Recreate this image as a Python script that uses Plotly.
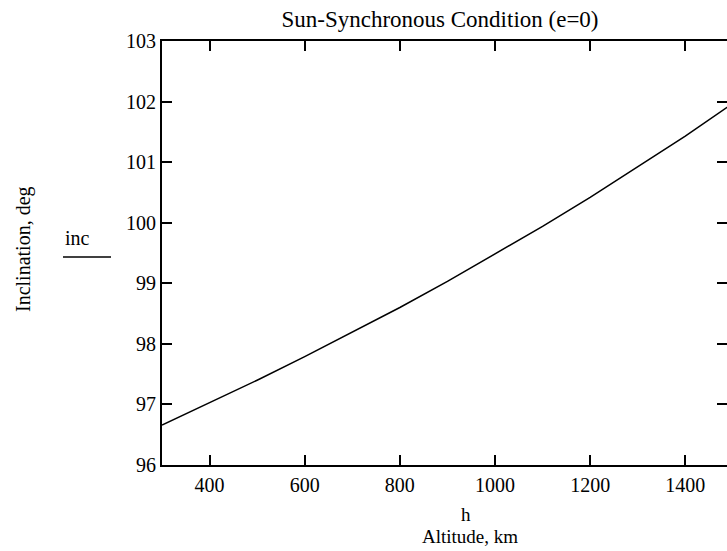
import plotly.graph_objects as go

altitude_km = [300, 400, 500, 600, 700, 800, 900, 1000, 1100, 1200, 1300, 1400, 1500]
inclination_deg = [96.66, 97.03, 97.40, 97.79, 98.19, 98.60, 99.03, 99.48, 99.94, 100.42, 100.92, 101.43, 101.97]
x_ticks = [400, 600, 800, 1000, 1200, 1400]
y_ticks = [96, 97, 98, 99, 100, 101, 102, 103]

FONT = "Liberation Serif"
W, H = 727, 551
L, R, T, B = 162, 0, 41, 86
PW, PH = W - L - R, H - T - B


def px(x):
    return (x - L) / PW


def py(y):
    return (H - B - y) / PH


fig = go.Figure()
fig.add_trace(go.Scatter(x=altitude_km, y=inclination_deg, mode="lines",
                         line=dict(color="black", width=1.5), showlegend=False,
                         hoverinfo="skip"))
# invisible trace so the right-hand axis shows mirrored ticks
fig.add_trace(go.Scatter(x=altitude_km, y=inclination_deg, mode="lines", yaxis="y2",
                         line=dict(color="rgba(0,0,0,0)", width=0), showlegend=False,
                         hoverinfo="skip"))

fig.update_layout(
    width=W, height=H,
    margin=dict(l=L, r=R, t=T, b=B),
    paper_bgcolor="white", plot_bgcolor="white",
    font=dict(family=FONT, color="black", size=20),
    title=dict(text="Sun-Synchronous Condition (e=0)", x=440 / W, xanchor="center",
               y=1 - 19 / H, yanchor="middle", font=dict(size=23, family=FONT)),
    xaxis=dict(range=[300, 1487.7], tickvals=x_ticks, ticks="inside", ticklen=10,
               tickwidth=1.5, tickcolor="black", showline=True, linecolor="black",
               linewidth=2, mirror="ticks", showgrid=False, zeroline=False,
               tickfont=dict(size=20, family=FONT), ticklabelstandoff=1),
    yaxis=dict(range=[96, 103], tickvals=y_ticks, ticks="inside", ticklen=10,
               tickwidth=1.5, tickcolor="black", showline=True, linecolor="black",
               linewidth=2, mirror=False, showgrid=False, zeroline=False,
               tickfont=dict(size=20, family=FONT), ticklabelstandoff=0),
    yaxis2=dict(range=[96, 103], tickvals=y_ticks, ticks="inside", ticklen=10,
                tickwidth=1.5, tickcolor="black", showline=False, overlaying="y",
                side="right", showticklabels=False, showgrid=False, zeroline=False),
    annotations=[
        dict(text="Inclination, deg", x=px(23), y=py(249), xref="paper", yref="paper",
             textangle=-90, showarrow=False, xanchor="center", yanchor="middle",
             font=dict(size=20, family=FONT)),
        dict(text="inc", x=px(77), y=py(238), xref="paper", yref="paper",
             showarrow=False, xanchor="center", yanchor="middle",
             font=dict(size=20, family=FONT)),
        dict(text="h", x=px(466), y=py(514), xref="paper", yref="paper",
             showarrow=False, xanchor="center", yanchor="middle",
             font=dict(size=19, family=FONT)),
        dict(text="Altitude, km", x=px(470), y=py(536), xref="paper", yref="paper",
             showarrow=False, xanchor="center", yanchor="middle",
             font=dict(size=19, family=FONT)),
    ],
    shapes=[
        dict(type="line", xref="paper", yref="paper", x0=px(63), x1=px(111),
             y0=py(257), y1=py(257), line=dict(color="black", width=1.5)),
    ],
)

fig.write_html("out.html", config={"displayModeBar": False},
               post_script="document.body.style.margin='0';document.body.style.overflow='hidden';")
